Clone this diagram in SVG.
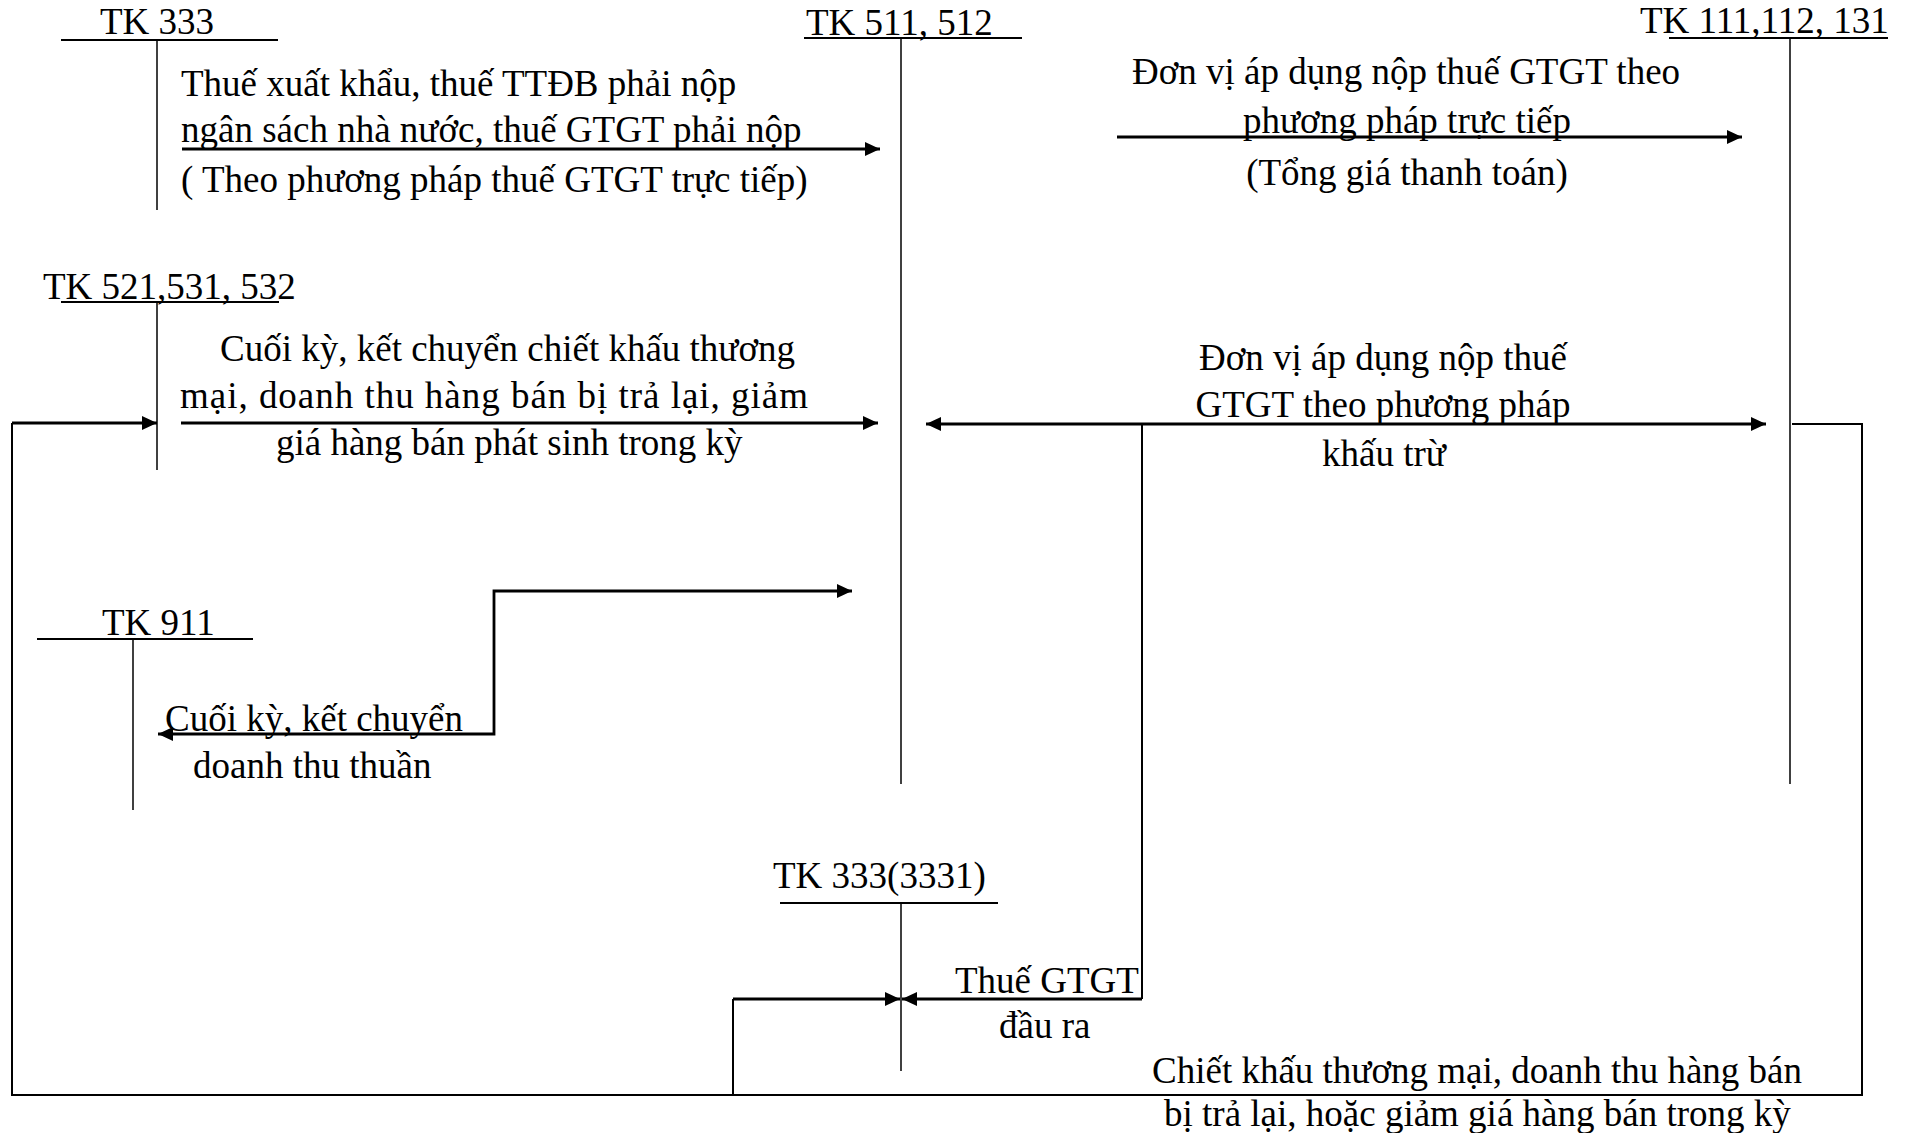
<svg xmlns="http://www.w3.org/2000/svg" width="1906" height="1133" viewBox="0 0 1906 1133">
<style>
text{font-family:"Liberation Serif","Times New Roman",serif;font-size:37px;fill:#000}
.t{stroke:#000;stroke-width:1.5;fill:none}
.h{stroke:#000;stroke-width:2;fill:none}
.a{stroke:#000;stroke-width:2.8;fill:none}
.l{stroke:#000;stroke-width:2;fill:none}
</style>
<defs>
<marker id="ar" markerUnits="userSpaceOnUse" markerWidth="16" markerHeight="16" refX="15" refY="7" orient="auto-start-reverse" viewBox="0 0 16 16">
<path d="M0,0 L15,7 L0,14 z" fill="#000"/>
</marker>
</defs>
<rect width="1906" height="1133" fill="#fff"/>

<g id="tk333">
<text x="100" y="34">TK 333</text>
<line class="h" x1="61" y1="40" x2="278" y2="40"/>
<line class="t" x1="157" y1="40" x2="157" y2="210"/>
</g>
<g id="tk511">
<text x="806" y="35">TK 511, 512</text>
<line class="h" x1="804" y1="38" x2="1022" y2="38"/>
<line class="t" x1="901" y1="38" x2="901" y2="784"/>
</g>
<g id="tk111">
<text x="1640" y="33">TK 111,112, 131</text>
<line class="h" x1="1669" y1="38" x2="1888" y2="38"/>
<line class="t" x1="1790" y1="38" x2="1790" y2="784"/>
</g>
<g id="tk521">
<text x="43" y="299">TK 521,531, 532</text>
<line class="h" x1="61" y1="302" x2="279" y2="302"/>
<line class="t" x1="157" y1="302" x2="157" y2="470"/>
</g>
<g id="tk911">
<text x="102" y="635">TK 911</text>
<line class="h" x1="37" y1="639" x2="253" y2="639"/>
<line class="t" x1="133" y1="639" x2="133" y2="810"/>
</g>
<g id="tk3331">
<text x="773" y="888">TK 333(3331)</text>
<line class="h" x1="780" y1="903" x2="998" y2="903"/>
<line class="t" x1="901" y1="903" x2="901" y2="1071"/>
</g>

<g id="labels">
<text x="181" y="96">Thuế xuất khẩu, thuế TTĐB phải nộp</text>
<text x="181" y="142">ngân sách nhà nước, thuế GTGT phải nộp</text>
<text x="181" y="192">( Theo phương pháp thuế GTGT trực tiếp)</text>

<text x="1406" y="84" text-anchor="middle">Đơn vị áp dụng nộp thuế GTGT theo</text>
<text x="1407" y="133" text-anchor="middle">phương pháp trực tiếp</text>
<text x="1407" y="185" text-anchor="middle">(Tổng giá thanh toán)</text>

<text x="220" y="361">Cuối kỳ, kết chuyển chiết khấu thương</text>
<text x="180" y="408" textLength="628" lengthAdjust="spacing">mại, doanh thu hàng bán bị trả lại, giảm</text>
<text x="276" y="455">giá hàng bán phát sinh trong kỳ</text>

<text x="1383" y="370" text-anchor="middle">Đơn vị áp dụng nộp thuế</text>
<text x="1383" y="417" text-anchor="middle">GTGT theo phương pháp</text>
<text x="1384" y="466" text-anchor="middle">khấu trừ</text>

<text x="165" y="731">Cuối kỳ, kết chuyển</text>
<text x="193" y="778">doanh thu thuần</text>

<text x="955" y="993">Thuế GTGT</text>
<text x="999" y="1038">đầu ra</text>

<text x="1152" y="1083">Chiết khấu thương mại, doanh thu hàng bán</text>
<text x="1164" y="1126">bị trả lại, hoặc giảm giá hàng bán trong kỳ</text>
</g>

<g id="connectors">
<line class="a" x1="182" y1="149" x2="880" y2="149" marker-end="url(#ar)"/>
<line class="a" x1="1117" y1="137" x2="1742" y2="137" marker-end="url(#ar)"/>
<line class="a" x1="181" y1="423" x2="878" y2="423" marker-end="url(#ar)"/>
<line class="a" x1="926" y1="424" x2="1766" y2="424" marker-start="url(#ar)" marker-end="url(#ar)"/>
<polyline class="l" points="1142,424 1142,999"/>
<line class="a" x1="1142" y1="999" x2="902" y2="999" marker-end="url(#ar)"/>
<polyline class="l" points="1792,424 1862,424 1862,1095 12,1095 12,423"/>
<line class="a" x1="12" y1="423" x2="157" y2="423" marker-end="url(#ar)"/>
<polyline class="l" points="733,1095 733,999"/>
<line class="a" x1="733" y1="999" x2="900" y2="999" marker-end="url(#ar)"/>
<polyline class="a" points="852,591 494,591 494,734 158,734" marker-start="url(#ar)" marker-end="url(#ar)"/>
</g>
</svg>
